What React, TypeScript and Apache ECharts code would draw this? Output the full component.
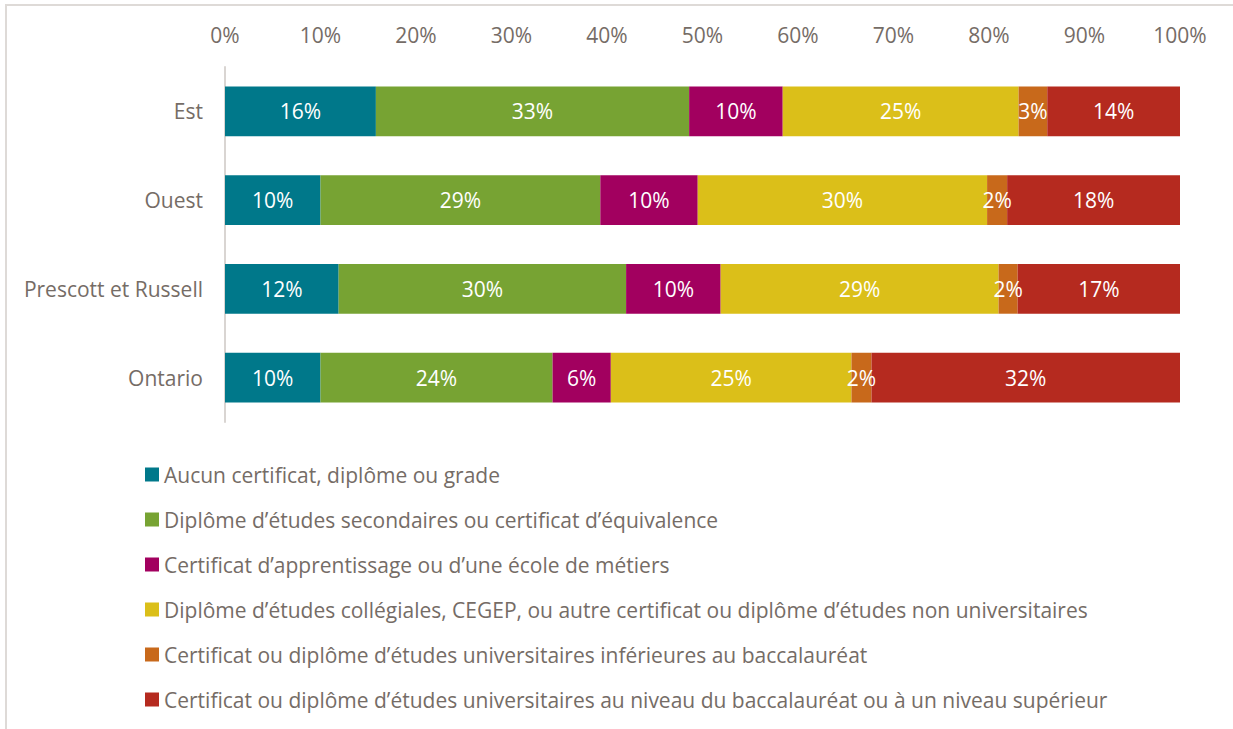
import React, { useEffect, useRef } from "react";
import * as echarts from "echarts";

const categories = ["Est", "Ouest", "Prescott et Russell", "Ontario"];
const seriesNames = [
  "Aucun certificat, diplôme ou grade",
  "Diplôme d’études secondaires ou certificat d’équivalence",
  "Certificat d’apprentissage ou d’une école de métiers",
  "Diplôme d’études collégiales, CEGEP, ou autre certificat ou diplôme d’études non universitaires",
  "Certificat ou diplôme d’études universitaires inférieures au baccalauréat",
  "Certificat ou diplôme d’études universitaires au niveau du baccalauréat ou à un niveau supérieur",
];
const colors = ["#00788A", "#77A333", "#A2005F", "#DBBF19", "#C8691B", "#B52A1F"];

const aucun = [15.8, 10.0, 11.9, 10.0];
const secondaires = [32.8, 29.3, 30.1, 24.3];
const apprentissage = [9.8, 10.2, 9.9, 6.1];
const collegiales = [24.7, 30.3, 29.1, 25.2];
const inferieures = [3.0, 2.1, 2.0, 2.1];
const baccalaureat = [13.9, 18.1, 17.0, 32.3];

const seriesValues = [aucun, secondaires, apprentissage, collegiales, inferieures, baccalaureat];

const FONT = "'Open Sans', sans-serif";
const TEXT = "#756C66";
const FS = 21;

export default function App() {
  const ref = useRef<HTMLDivElement>(null);
  useEffect(() => {
    if (!ref.current) return;
    const chart = echarts.init(ref.current, null, { renderer: "svg" });
    chart.setOption({
      animation: false,
      textStyle: { fontFamily: FONT },
      graphic: [
        {
          type: "rect",
          shape: { x: 6, y: 5, width: 1400, height: 900 },
          style: { fill: "none", stroke: "#DEDAD7", lineWidth: 2 },
          silent: true,
        },
      ],
      grid: { left: 225, right: 53, top: 67, bottom: 307, containLabel: false },
      legend: {
        orient: "vertical",
        left: 145,
        top: 464,
        height: 265,
        padding: 0,
        itemWidth: 14,
        itemHeight: 14,
        itemGap: 45 - FS,
        icon: "rect",
        selectedMode: false,
        textStyle: { color: TEXT, fontSize: FS, fontFamily: FONT },
        data: seriesNames,
      },
      xAxis: {
        type: "value",
        position: "top",
        min: 0,
        max: 100,
        interval: 10,
        axisLine: { show: false },
        axisTick: { show: false },
        splitLine: { show: false },
        axisLabel: {
          formatter: (v: number) => v + "%",
          color: TEXT,
          fontSize: FS,
          fontFamily: FONT,
          margin: 22,
        },
      },
      yAxis: {
        type: "category",
        inverse: true,
        data: categories,
        axisLine: { show: true, lineStyle: { color: "#D9D5D2", width: 2 } },
        axisTick: { show: false },
        axisLabel: { color: TEXT, fontSize: FS, fontFamily: FONT, margin: 22 },
      },
      series: seriesNames.map((name, i) => ({
        name,
        type: "bar",
        stack: "total",
        barCategoryGap: "44%",
        data: seriesValues[i],
        itemStyle: { color: colors[i] },
        label: {
          show: true,
          position: "inside",
          color: "#FFFFFF",
          fontSize: FS,
          fontFamily: FONT,
          formatter: (p: any) => Math.round(p.value) + "%",
        },
      })),
    });
    return () => chart.dispose();
  }, []);
  return (
    <div
      ref={ref}
      style={{ position: "fixed", left: 0, top: 0, width: 1233, height: 729, background: "#fff" }}
    />
  );
}
